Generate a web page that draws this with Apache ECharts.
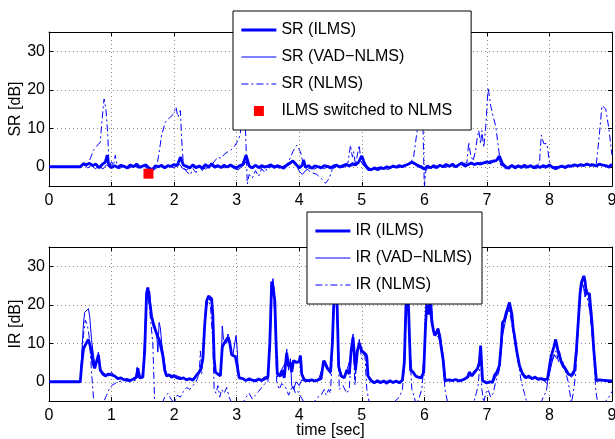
<!DOCTYPE html>
<html><head><meta charset="utf-8">
<script src="https://cdn.jsdelivr.net/npm/echarts@6/dist/echarts.min.js"></script>
<style>html,body{margin:0;padding:0;background:#fff}#c{width:615px;height:439px}</style>
</head><body><div id="c"></div>
<script>
const xTicks = [0,1,2,3,4,5,6,7,8,9];
const yTicks = [0,10,20,30];
const srNames = ['SR (ILMS)','SR (VAD\u2212NLMS)','SR (NLMS)','ILMS switched to NLMS'];
const irNames = ['IR (ILMS)','IR (VAD\u2212NLMS)','IR (NLMS)'];

const srILMS = [[0,0],[0.5,0],[0.55,0.8],[0.6,0.5],[0.65,0.9],[0.7,0.3],[0.75,0.7],[0.8,-0.3],[0.85,0.6],[0.9,1.2],[0.93,3.0],[0.95,0.8],[1.0,-0.2],[1.05,0.3],[1.1,-0.2],[1.15,0.4],[1.2,0.1],[1.25,-0.3],[1.3,0.5],[1.35,0.0],[1.4,0.7],[1.45,-0.2],[1.5,0.2],[1.55,0.5],[1.6,-0.4],[1.65,-0.8],[1.7,0.2],[1.75,0.0],[1.8,0.4],[1.85,-0.3],[1.9,0.3],[1.95,0.1],[2.0,0.6],[2.05,0.3],[2.1,2.5],[2.15,0.4],[2.2,0.1],[2.25,-0.3],[2.3,0.5],[2.35,-0.2],[2.4,0.2],[2.45,-0.4],[2.5,0.6],[2.55,-0.2],[2.6,0.8],[2.65,0.0],[2.7,0.3],[2.75,-0.2],[2.8,0.4],[2.85,-0.1],[2.9,0.5],[2.95,0.0],[3.0,-0.3],[3.05,0.3],[3.1,0.6],[3.15,3.0],[3.2,0.2],[3.25,-0.3],[3.3,0.4],[3.35,-0.2],[3.4,0.3],[3.45,-0.1],[3.5,0.2],[3.55,0.5],[3.6,-0.2],[3.65,0.3],[3.7,0.0],[3.75,-0.4],[3.8,0.4],[3.85,0.9],[3.9,1.5],[3.95,0.6],[4.0,-0.3],[4.05,0.4],[4.07,1.8],[4.1,-0.2],[4.15,0.3],[4.2,-0.4],[4.25,0.2],[4.3,0.0],[4.35,-0.3],[4.4,0.3],[4.45,0.1],[4.5,-0.3],[4.55,0.2],[4.6,0.4],[4.65,-0.1],[4.7,0.3],[4.75,0.6],[4.8,0.2],[4.85,0.8],[4.9,0.5],[4.95,1.2],[5.0,2.8],[5.05,0.6],[5.1,-0.5],[5.15,-0.8],[5.2,-0.3],[5.25,-0.6],[5.3,-0.2],[5.35,-0.5],[5.4,0.0],[5.45,-0.3],[5.5,0.2],[5.55,-0.1],[5.6,0.3],[5.65,0.0],[5.7,0.4],[5.75,0.7],[5.8,1.2],[5.85,0.8],[5.9,0.3],[5.95,0.0],[6.0,-0.6],[6.05,0.2],[6.1,-0.3],[6.15,0.3],[6.2,-0.2],[6.25,0.4],[6.3,0.0],[6.35,0.6],[6.4,0.1],[6.45,0.7],[6.5,0.0],[6.55,0.5],[6.6,1.0],[6.65,0.2],[6.7,0.6],[6.75,1.0],[6.8,0.6],[6.85,0.9],[6.9,0.7],[6.95,1.0],[7.0,1.3],[7.05,1.0],[7.1,1.5],[7.15,1.6],[7.2,2.8],[7.25,0.8],[7.3,0.0],[7.35,-0.4],[7.4,0.4],[7.45,-0.3],[7.5,0.3],[7.55,-0.2],[7.6,0.4],[7.65,-0.1],[7.7,0.3],[7.75,-0.3],[7.8,0.2],[7.85,-0.2],[7.9,0.3],[7.95,0.0],[8.0,0.5],[8.05,-0.2],[8.1,-0.5],[8.15,-0.1],[8.2,0.2],[8.25,-0.2],[8.3,0.3],[8.35,0.1],[8.4,0.5],[8.45,0.2],[8.5,0.6],[8.55,0.3],[8.6,0.7],[8.65,0.4],[8.7,0.5],[8.75,0.2],[8.8,0.7],[8.85,0.4],[8.9,0.3],[8.95,0.0],[9.0,0.6]];

const srVAD = [[0,0],[0.5,0],[0.56,0.6],[0.62,-0.3],[0.68,0.4],[0.74,-0.5],[0.8,0.2],[0.86,-0.6],[0.92,0.5],[0.98,-0.4],[1.05,0.3],[1.12,-0.5],[1.2,0.2],[1.28,-0.4],[1.35,0.3],[1.42,-0.3],[1.5,0.4],[1.58,-0.6],[1.64,-1.2],[1.7,-0.5],[1.78,0.2],[1.85,-0.4],[1.92,0.2],[2.0,-0.3],[2.08,0.8],[2.14,-0.5],[2.2,-0.8],[2.28,0.2],[2.35,-0.5],[2.42,0.3],[2.5,-0.6],[2.58,0.4],[2.65,-0.4],[2.72,0.2],[2.8,-0.3],[2.88,0.3],[2.95,-0.4],[3.02,-0.8],[3.1,0.2],[3.16,1.5],[3.22,-0.4],[3.3,0.3],[3.38,-0.5],[3.45,0.2],[3.52,-0.3],[3.6,0.3],[3.68,-0.4],[3.75,0.2],[3.82,0.8],[3.88,1.6],[3.94,1.0],[4.0,-1.2],[4.05,-2.0],[4.1,-1.0],[4.18,-0.3],[4.25,-0.6],[4.32,0.2],[4.4,-0.5],[4.48,0.2],[4.55,-0.3],[4.62,0.3],[4.7,-0.2],[4.78,0.4],[4.85,0.2],[4.92,0.8],[4.98,1.5],[5.04,0.2],[5.1,-1.0],[5.18,-0.6],[5.26,-1.0],[5.34,-0.4],[5.42,-0.7],[5.5,0.0],[5.58,-0.3],[5.66,0.2],[5.74,0.5],[5.8,1.0],[5.88,0.2],[5.96,-0.5],[6.02,-0.9],[6.1,0.0],[6.18,-0.4],[6.26,0.3],[6.34,-0.2],[6.42,0.4],[6.5,-0.2],[6.58,0.6],[6.66,0.0],[6.74,0.8],[6.82,0.4],[6.9,1.2],[6.98,0.8],[7.05,1.6],[7.12,1.2],[7.18,2.0],[7.24,0.5],[7.3,-0.6],[7.38,0.2],[7.46,-0.5],[7.54,0.3],[7.62,-0.4],[7.7,0.2],[7.78,-0.5],[7.86,0.1],[7.94,-0.4],[8.02,0.3],[8.1,-0.7],[8.18,0.0],[8.26,-0.4],[8.34,0.2],[8.42,0.3],[8.5,0.2],[8.58,0.5],[8.66,0.2],[8.74,0.4],[8.82,0.6],[8.9,0.1],[8.96,-0.4],[9.0,0.3]];

const srNLMS = [[0,0],[0.5,0],[0.55,0.5],[0.6,0.2],[0.66,2.1],[0.71,4.3],[0.76,5.3],[0.79,5.6],[0.82,6.4],[0.84,10.7],[0.88,17.6],[0.91,15],[0.94,8.2],[0.96,0],[1.0,1.3],[1.03,0.2],[1.06,3],[1.09,0.3],[1.15,0.2],[1.25,-0.2],[1.35,0.3],[1.45,0],[1.55,0.3],[1.65,-0.5],[1.72,0.2],[1.75,2.6],[1.8,8.2],[1.86,11.6],[1.9,12.3],[1.94,12.9],[1.99,13.7],[2.03,15.5],[2.06,12.9],[2.1,14.6],[2.12,7.3],[2.15,0],[2.2,-1.3],[2.26,-2.1],[2.3,-0.5],[2.35,-1.5],[2.4,0],[2.45,-1],[2.5,0.3],[2.6,0.5],[2.65,1.5],[2.7,2.5],[2.75,2.2],[2.8,3.2],[2.85,3.8],[2.9,4.2],[2.95,5],[3.0,6.2],[3.05,8],[3.08,11],[3.12,17],[3.14,10],[3.17,-4.5],[3.2,-2],[3.25,-3],[3.3,-1],[3.35,-2.5],[3.4,-0.5],[3.45,-1.5],[3.5,0],[3.6,0.2],[3.7,-0.3],[3.8,0.5],[3.85,2],[3.9,4],[3.96,5.6],[4.02,3.9],[4.07,0.3],[4.15,-1],[4.2,-1.5],[4.28,-2],[4.35,-3],[4.42,-4.3],[4.48,-3],[4.53,-0.5],[4.6,0],[4.7,0.5],[4.78,1],[4.82,5.6],[4.85,2.5],[4.87,3.9],[4.9,0.5],[4.94,4],[4.96,5.6],[4.98,2],[5.02,0.5],[5.1,-0.5],[5.2,-0.6],[5.3,-0.2],[5.4,-0.3],[5.5,0.2],[5.6,0.3],[5.7,0.5],[5.78,1],[5.83,2.7],[5.89,10],[5.93,13],[5.96,14],[5.98,9.4],[6.0,-5.5],[6.03,0],[6.1,-0.3],[6.2,0.2],[6.3,0],[6.4,0.3],[6.5,0.2],[6.6,0.8],[6.68,1],[6.71,6.4],[6.74,3],[6.78,1.5],[6.82,4.3],[6.84,6.9],[6.87,9.4],[6.9,6],[6.92,9.4],[6.95,5],[6.98,9.9],[7.02,20.6],[7.06,15.9],[7.1,13],[7.14,10.7],[7.19,4.3],[7.22,0.4],[7.3,0],[7.4,0.3],[7.5,0],[7.6,0.2],[7.7,0],[7.8,0.3],[7.84,1],[7.87,8.2],[7.91,6],[7.96,6],[8.0,1.3],[8.05,0],[8.2,0.2],[8.4,0.4],[8.6,0.6],[8.75,0.8],[8.79,6.9],[8.84,15.9],[8.9,15],[8.95,9.9],[9.0,3]];

const switchPoint = [[1.59,-1.8]];

const irILMS = [[0,0],[0.5,0],[0.52,4],[0.55,8.5],[0.58,9.5],[0.6,9],[0.63,11],[0.66,10.5],[0.68,8],[0.7,5],[0.73,3.5],[0.76,3],[0.79,7],[0.82,3],[0.86,2],[0.9,1.5],[0.95,2],[1.0,1.8],[1.05,1.5],[1.1,0.8],[1.15,1],[1.2,0.5],[1.25,0.6],[1.3,0.3],[1.35,0.7],[1.4,1.2],[1.42,3.5],[1.45,1],[1.5,1.2],[1.53,8],[1.56,23],[1.58,24.5],[1.61,24],[1.64,17],[1.67,15],[1.7,14.5],[1.73,12],[1.76,11],[1.79,10.5],[1.82,6.8],[1.85,3],[1.88,1.5],[1.92,1.8],[1.96,1.2],[2.0,1.5],[2.05,1],[2.1,0.8],[2.15,1],[2.2,0.5],[2.25,0.8],[2.3,0.4],[2.35,1.5],[2.4,2.5],[2.43,3.5],[2.46,6],[2.49,15],[2.52,21],[2.55,22.3],[2.6,21.5],[2.62,17],[2.64,6],[2.66,2.5],[2.7,2],[2.74,1.5],[2.77,9],[2.8,10],[2.83,9.5],[2.86,11.5],[2.89,10],[2.92,7],[2.95,6.8],[2.98,6.5],[3.01,4],[3.04,1],[3.1,0.8],[3.15,0.3],[3.2,0.8],[3.25,0.4],[3.3,0.2],[3.35,0.7],[3.4,0.3],[3.45,1],[3.5,1.2],[3.53,10],[3.56,26],[3.58,25],[3.61,21],[3.63,10],[3.65,2],[3.7,1.5],[3.73,3],[3.76,1],[3.8,7.5],[3.83,4],[3.86,5],[3.88,2.5],[3.91,5.5],[3.96,5],[4.0,5.3],[4.02,6.8],[4.04,2],[4.08,0.5],[4.15,0.3],[4.2,0.5],[4.25,0.2],[4.3,0.5],[4.35,0.8],[4.39,5.5],[4.42,5],[4.45,3.5],[4.5,2.5],[4.53,10],[4.56,24],[4.58,28],[4.6,24],[4.63,4],[4.67,1.5],[4.72,1],[4.76,3],[4.8,2],[4.83,8],[4.86,11.5],[4.9,3],[4.93,8],[4.96,10],[5.0,8],[5.04,7.5],[5.08,6.5],[5.1,1.5],[5.15,0.2],[5.2,-0.3],[5.25,0.3],[5.3,-0.2],[5.35,0.2],[5.4,-0.4],[5.45,0.3],[5.5,-0.2],[5.55,0.2],[5.6,-0.3],[5.65,0.4],[5.68,5],[5.71,22],[5.73,26],[5.75,18],[5.78,3],[5.82,2.5],[5.86,1.5],[5.9,1.2],[5.95,1],[5.99,2.5],[6.02,15],[6.04,20],[6.07,17.5],[6.09,20.6],[6.12,15.5],[6.15,13],[6.17,12],[6.2,13],[6.22,13.8],[6.25,11],[6.27,11],[6.3,5.8],[6.33,0.3],[6.4,0.5],[6.45,0.3],[6.5,0.6],[6.55,0.2],[6.6,0.4],[6.65,0.8],[6.69,1.2],[6.72,2.5],[6.76,1.5],[6.8,2.5],[6.85,3.4],[6.88,5],[6.9,9.4],[6.93,0.3],[7.0,-0.3],[7.05,0],[7.09,-0.2],[7.12,1.6],[7.16,2.5],[7.2,4.2],[7.23,10],[7.25,15.4],[7.28,16],[7.31,18],[7.34,19.5],[7.36,20.6],[7.4,17.5],[7.42,14],[7.44,12],[7.48,7.7],[7.52,4.2],[7.57,2],[7.62,1],[7.67,1.5],[7.72,0.8],[7.77,1.2],[7.82,0.6],[7.87,0.8],[7.92,0.5],[7.97,0.8],[8.0,4],[8.03,6.8],[8.07,9],[8.1,11],[8.14,7.7],[8.19,5.1],[8.22,4],[8.25,3.4],[8.3,2],[8.35,1.6],[8.4,2.9],[8.43,8],[8.46,15.4],[8.49,23],[8.51,25.7],[8.55,27.5],[8.57,26],[8.59,23],[8.62,23.5],[8.64,22.8],[8.66,19],[8.68,15.4],[8.71,8],[8.75,0.3],[8.8,0.5],[8.9,0.3],[9.0,0.2]];

const irVAD = [[0,0],[0.5,0],[0.52,6],[0.55,15],[0.57,18],[0.6,17.5],[0.63,19],[0.65,17],[0.68,11],[0.71,7],[0.74,4],[0.76,4],[0.79,7.7],[0.82,3.5],[0.86,2.5],[0.9,2],[0.95,1.5],[1.0,2.5],[1.05,1.5],[1.1,1],[1.2,0.6],[1.3,0.5],[1.38,0.8],[1.41,3.8],[1.44,1.5],[1.5,1.5],[1.53,12],[1.56,24],[1.58,22],[1.61,23.5],[1.64,16.7],[1.67,14],[1.69,14.5],[1.72,13],[1.74,7.7],[1.76,15.4],[1.78,14],[1.8,10.3],[1.83,6.8],[1.87,2.5],[1.9,1.5],[2.0,1.8],[2.1,1.2],[2.2,0.6],[2.3,0.8],[2.35,1.8],[2.4,2],[2.44,4],[2.47,10],[2.5,18],[2.54,22],[2.58,21],[2.6,22],[2.62,15],[2.65,2.5],[2.7,1.8],[2.75,2.5],[2.77,14.5],[2.79,11],[2.81,10.7],[2.84,10],[2.86,12.4],[2.89,11],[2.91,7.7],[2.94,7],[2.97,6.8],[2.99,12],[3.01,8],[3.03,1.6],[3.1,0.5],[3.2,0.3],[3.3,0.6],[3.4,0.2],[3.5,0.8],[3.54,12],[3.56,24],[3.58,26.8],[3.6,23.2],[3.63,11],[3.65,1.2],[3.71,2.9],[3.78,5],[3.8,8.5],[3.83,3],[3.86,6],[3.88,-1],[3.91,-2],[3.95,0],[4.0,-1],[4.04,0.5],[4.1,0],[4.2,0.3],[4.3,0.2],[4.38,4],[4.41,5.5],[4.44,4.5],[4.5,2],[4.54,12],[4.57,26],[4.59,26],[4.62,12],[4.64,3.4],[4.7,1],[4.74,2],[4.78,4],[4.82,6],[4.84,8.5],[4.86,12.4],[4.88,6],[4.9,2],[4.94,9],[4.96,11],[4.99,7.8],[5.04,7],[5.08,7.3],[5.1,1.5],[5.2,0],[5.3,-0.4],[5.4,0.2],[5.5,-0.3],[5.6,0.1],[5.66,0.4],[5.69,10],[5.72,24],[5.74,23],[5.77,8],[5.8,3],[5.86,1.6],[5.92,1],[5.97,2],[6.0,8],[6.03,20.2],[6.06,18],[6.07,17.5],[6.1,19],[6.12,20],[6.14,14],[6.16,12],[6.19,13],[6.22,13.8],[6.24,13],[6.26,12],[6.28,9],[6.3,6.9],[6.34,0.8],[6.4,0.2],[6.5,0.4],[6.6,0.2],[6.7,1],[6.75,2],[6.8,2],[6.85,3],[6.9,8],[6.93,0],[7.0,-0.5],[7.1,0],[7.15,1.5],[7.2,3.5],[7.25,12],[7.3,16],[7.33,18],[7.37,19],[7.4,16],[7.44,11],[7.48,7],[7.52,4],[7.57,2.5],[7.65,1],[7.75,0.8],[7.85,1],[7.92,0.2],[7.96,-0.5],[8.0,2],[8.04,5],[8.08,7],[8.12,6],[8.16,8],[8.2,5],[8.25,4],[8.3,2.5],[8.35,1.2],[8.4,2],[8.44,10],[8.48,20],[8.51,26],[8.54,25],[8.57,22],[8.6,24],[8.63,21.5],[8.66,16],[8.7,10],[8.74,1],[8.8,0.3],[8.9,0.5],[9.0,0.3]];

const irNLMS = [[0,0],[0.5,0],[0.52,5],[0.55,12],[0.58,16],[0.61,15],[0.64,12],[0.67,5],[0.7,-2],[0.72,-6],[0.8,-7],[0.88,-5],[0.92,-3.5],[0.96,-2],[1.0,-1],[1.05,-0.5],[1.1,0],[1.2,0.3],[1.3,0],[1.4,0.5],[1.44,2.5],[1.48,0.5],[1.52,6],[1.55,20],[1.58,23],[1.6,20],[1.63,15],[1.66,10],[1.69,-6],[1.75,-7],[1.8,-6],[1.85,-4],[1.9,-3],[1.95,-4.5],[2.0,-5.5],[2.05,-3.5],[2.1,-4],[2.15,-2.5],[2.2,-1.5],[2.25,-2],[2.3,-1],[2.35,0],[2.4,2],[2.42,8],[2.44,2],[2.47,8],[2.5,18],[2.54,21],[2.58,20],[2.62,10],[2.64,-2],[2.67,-3],[2.7,-1],[2.73,-4],[2.76,-2],[2.8,-3],[2.84,-1.5],[2.88,-4],[2.92,-5.5],[3.0,-6],[3.1,-5.5],[3.15,-4],[3.2,-3],[3.25,-4.5],[3.3,-3.5],[3.35,-2.5],[3.4,-1.5],[3.45,-0.5],[3.5,0],[3.53,8],[3.56,23],[3.59,24],[3.62,12],[3.64,0],[3.68,-2],[3.72,-0.5],[3.76,-1],[3.8,-2],[3.83,-3.5],[3.87,-2],[3.9,-1],[3.94,-3],[3.98,-2.5],[4.03,-4],[4.08,-5.5],[4.15,-6],[4.25,-5],[4.3,-4],[4.35,-3.5],[4.4,-2],[4.43,-3.5],[4.47,-2],[4.5,-3],[4.53,8],[4.56,24],[4.59,25],[4.62,10],[4.64,-2],[4.7,-1],[4.76,-3],[4.8,-2],[4.84,10],[4.86,12],[4.89,-1],[4.93,8],[4.96,10],[5.0,6],[5.05,7],[5.08,-2],[5.12,-5.5],[5.2,-6],[5.4,-6],[5.5,-5.5],[5.6,-4],[5.65,-2],[5.68,4],[5.71,20],[5.73,24],[5.76,10],[5.8,-2],[5.84,-4],[5.87,-6],[5.92,-4],[5.96,-2],[6.0,6],[6.03,18],[6.06,19],[6.1,18],[6.14,13],[6.2,12],[6.25,11],[6.3,5],[6.33,-2],[6.38,-6],[6.6,-6.5],[6.78,-6],[6.83,-3],[6.86,-1],[6.9,7],[6.92,-2],[6.95,-5.5],[6.98,-3],[7.02,-2],[7.06,-4],[7.1,-3],[7.14,0],[7.2,3],[7.25,13],[7.3,17],[7.35,19],[7.4,15],[7.45,10],[7.5,5],[7.55,0],[7.6,-3],[7.65,-6],[7.85,-6],[7.9,-4],[7.95,-2.5],[8.0,3],[8.05,6],[8.1,8],[8.15,5],[8.2,6],[8.25,3],[8.3,0],[8.35,-5.5],[8.38,-3],[8.42,2],[8.46,14],[8.5,24],[8.54,25],[8.6,22],[8.65,18],[8.7,9],[8.74,-2],[8.77,-5.5],[8.85,-6],[8.95,-4],[9.0,-2.5]];

const FONT = 'Liberation Sans';
const BLUE = '#0000ff';
const DASHDOT = [7,3,2,3];
const THICK = 2.8, THIN = 1;

function xAx(gi, pos, showLabel, name){
  return {
    type:'value', gridIndex:gi, position:pos, min:0, max:9, interval:1,
    axisLine:{show:true, onZero:false, lineStyle:{color:'#000', width:1}},
    axisTick:{show:true, inside:true, length:4, lineStyle:{color:'#000'}},
    axisLabel:{show:showLabel, color:'#000', fontFamily:FONT, fontSize:16, margin:7,
      formatter:v=> xTicks.indexOf(v)>=0 ? String(v) : ''},
    splitLine:{show:pos==='bottom', lineStyle:{color:'#888', type:[1,3], width:1}},
    name: name||'', nameLocation:'middle', nameGap:22, nameMoveOverlap:false,
    nameTextStyle:{color:'#000', fontFamily:FONT, fontSize:16}
  };
}
function yAx(gi, pos, showLabel, name){
  return {
    type:'value', gridIndex:gi, position:pos, min:-5, max:35,
    axisLine:{show:true, onZero:false, lineStyle:{color:'#000', width:1}},
    axisTick:{show:true, inside:true, length:4, customValues:yTicks, lineStyle:{color:'#000'}},
    axisLabel:{show:showLabel, customValues:yTicks, color:'#000', fontFamily:FONT, fontSize:16, margin:4},
    splitLine:{show:pos==='left', lineStyle:{color:'#888', type:[1,3], width:1}},
    name: name||'', nameLocation:'middle', nameRotate:90, nameGap:25, nameMoveOverlap:false,
    nameTextStyle:{color:'#000', fontFamily:FONT, fontSize:16}
  };
}
function lineS(name, data, xi, yi, width, type){
  return {name, type:'line', xAxisIndex:xi, yAxisIndex:yi, data, symbol:'none', showSymbol:false,
    clip:true, animation:false, z:3,
    lineStyle:{color:BLUE, width, type}, itemStyle:{color:BLUE}};
}
const noSym = {opacity:0};
function legItem(name, width, type){
  return {name, itemStyle:noSym, lineStyle:{color:BLUE, width, type}};
}
const legendBase = {
  orient:'vertical', backgroundColor:'#fff', borderColor:'#000', borderWidth:1,
  itemWidth:35, itemHeight:10, itemGap:11, selectedMode:false,
  textStyle:{color:'#000', fontFamily:FONT, fontSize:16}
};
const chart = echarts.init(document.getElementById('c'), null, {renderer:'canvas'});
chart.setOption({
  backgroundColor:'#fff',
  animation:false,
  grid:[
    {left:49, top:32, width:563, height:154, containLabel:false, outerBoundsMode:'none'},
    {left:49, top:247, width:563, height:154, containLabel:false, outerBoundsMode:'none'}
  ],
  xAxis:[ xAx(0,'bottom',true), xAx(1,'bottom',true,'time [sec]'), xAx(0,'top',false), xAx(1,'top',false) ],
  yAxis:[ yAx(0,'left',true,'SR [dB]'), yAx(1,'left',true,'IR [dB]'), yAx(0,'right',false), yAx(1,'right',false) ],
  legend:[
    Object.assign({}, legendBase, {left:233, top:11, padding:[11,19,11,7], data:[
      legItem(srNames[0], THICK, 'solid'),
      legItem(srNames[1], THIN, 'solid'),
      legItem(srNames[2], THIN, DASHDOT),
      {name:srNames[3], icon:'path://M0 0h10v10h-10z', itemStyle:{color:'#ff0000', opacity:1}}
    ]}),
    Object.assign({}, legendBase, {left:307, top:212, padding:[11,10,11,7], data:[
      legItem(irNames[0], THICK, 'solid'),
      legItem(irNames[1], THIN, 'solid'),
      legItem(irNames[2], THIN, DASHDOT)
    ]})
  ],
  series:[
    lineS(srNames[1], srVAD, 0, 0, THIN, 'solid'),
    lineS(srNames[2], srNLMS, 0, 0, THIN, DASHDOT),
    lineS(srNames[0], srILMS, 0, 0, THICK, 'solid'),
    {name:srNames[3], type:'scatter', xAxisIndex:0, yAxisIndex:0, data:switchPoint, symbol:'rect',
      symbolSize:10, itemStyle:{color:'#ff0000', opacity:1}, z:5, animation:false},
    lineS(irNames[1], irVAD, 1, 1, THIN, 'solid'),
    lineS(irNames[2], irNLMS, 1, 1, THIN, DASHDOT),
    lineS(irNames[0], irILMS, 1, 1, THICK, 'solid')
  ]
});
</script></body></html>
